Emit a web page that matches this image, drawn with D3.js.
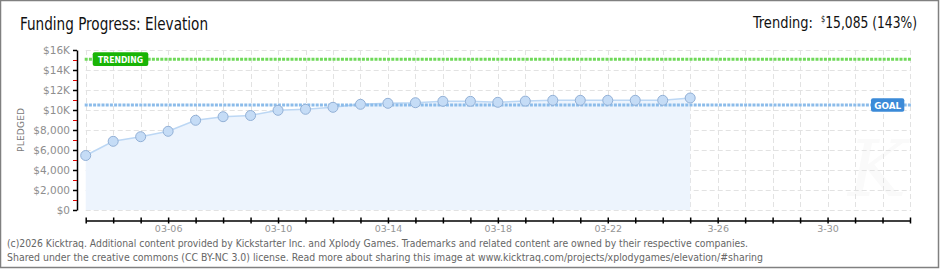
<!DOCTYPE html>
<html>
<head>
<meta charset="utf-8">
<script src="https://cdn.jsdelivr.net/npm/d3@7"></script>
<style>
  body { margin: 0; background: #fff; }
  svg { display: block; }
</style>
</head>
<body>
<div class="chart"></div>
<script>
const dates = [
  '2026-03-03', '2026-03-04', '2026-03-05', '2026-03-06', '2026-03-07', '2026-03-08',
  '2026-03-09', '2026-03-10', '2026-03-11', '2026-03-12', '2026-03-13', '2026-03-14',
  '2026-03-15', '2026-03-16', '2026-03-17', '2026-03-18', '2026-03-19', '2026-03-20',
  '2026-03-21', '2026-03-22', '2026-03-23', '2026-03-24', '2026-03-25'
];
const pledged = [
  5450, 6870, 7330, 7870, 8970, 9330,
  9450, 9970, 10070, 10270, 10570, 10670,
  10730, 10870, 10870, 10770, 10890, 10970,
  10970, 10970, 10970, 10970, 11200
];
const xDomain = ['2026-03-03', '2026-04-02'];
const xTickLabels = [
  ['2026-03-06', '03-06'], ['2026-03-10', '03-10'], ['2026-03-14', '03-14'],
  ['2026-03-18', '03-18'], ['2026-03-22', '03-22'], ['2026-03-26', '3-26'],
  ['2026-03-30', '3-30']
];
const yMajorTicks = [0, 2000, 4000, 6000, 8000, 10000, 12000, 14000, 16000];
const yMinorTicks = [1000, 3000, 5000, 7000, 9000, 11000, 13000, 15000];
const goal = 10500;
const trending = 15085;

const W = 940, H = 270;
const plot = { left: 85.7, right: 910, top: 50, bottom: 210 };

const parse = d3.utcParse('%Y-%m-%d');
const data = dates.map((d, i) => ({ date: parse(d), value: pledged[i] }));
const labelMap = new Map(xTickLabels.map(([d, l]) => [+parse(d), l]));

const svg = d3.select('.chart').append('svg')
  .attr('width', W)
  .attr('height', H);

svg.append('rect')
  .attr('width', W).attr('height', H)
  .attr('fill', '#fff');

// outer frame
svg.append('rect')
  .attr('x', 0.5).attr('y', 0.5)
  .attr('width', 938).attr('height', 267)
  .attr('fill', 'none')
  .attr('stroke', '#808080')
  .attr('stroke-width', 1.5);

const xScale = d3.scaleUtc()
  .domain(xDomain.map(parse))
  .range([plot.left, plot.right]);

const yScale = d3.scaleLinear()
  .domain([0, 16000])
  .range([plot.bottom, plot.top]);

const dayTicks = d3.utcDay.range(parse(xDomain[0]), d3.utcDay.offset(parse(xDomain[1]), 1));

// faint watermark
svg.append('text')
  .attr('x', 848).attr('y', 196)
  .attr('font-family', 'DejaVu Serif, serif')
  .attr('font-style', 'italic')
  .attr('font-size', 78)
  .attr('fill', '#fafafa')
  .text('K');

// grid
const grid = svg.append('g')
  .attr('stroke', '#e2e2e2')
  .attr('stroke-dasharray', '5,3')
  .attr('stroke-width', 1);

grid.selectAll('.vgrid')
  .data(dayTicks)
  .enter().append('line')
  .attr('x1', d => Math.round(xScale(d)) + 0.5)
  .attr('x2', d => Math.round(xScale(d)) + 0.5)
  .attr('y1', plot.top)
  .attr('y2', plot.bottom);

grid.selectAll('.hgrid')
  .data(yMajorTicks)
  .enter().append('line')
  .attr('x1', plot.left)
  .attr('x2', plot.right + 1)
  .attr('y1', d => yScale(d) + 0.5)
  .attr('y2', d => yScale(d) + 0.5);

// area + line
const area = d3.area()
  .x(d => xScale(d.date))
  .y0(yScale(0))
  .y1(d => yScale(d.value));

svg.append('path')
  .datum(data)
  .attr('d', area)
  .attr('fill', '#edf4fd');

const line = d3.line()
  .x(d => xScale(d.date))
  .y(d => yScale(d.value));

svg.append('path')
  .datum(data)
  .attr('d', line)
  .attr('fill', 'none')
  .attr('stroke', '#bcd7f4')
  .attr('stroke-width', 1.5);

// goal & trending lines
const refLine = (value, color) => {
  svg.append('line')
    .attr('x1', plot.left - 1)
    .attr('x2', plot.right + 1)
    .attr('y1', yScale(value))
    .attr('y2', yScale(value))
    .attr('stroke', color)
    .attr('stroke-width', 3)
    .attr('stroke-dasharray', '3,1.2');
};
refLine(goal, '#8cbcea');
refLine(trending, '#6fd95a');

// points
svg.append('g').selectAll('circle')
  .data(data)
  .enter().append('circle')
  .attr('cx', d => xScale(d.date))
  .attr('cy', d => yScale(d.value))
  .attr('r', 5)
  .attr('fill', '#c5dcf6')
  .attr('stroke', '#92b0d6')
  .attr('stroke-width', 1);

// badges
const badge = (x, value, w, color, label, textLen) => {
  const yc = yScale(value);
  svg.append('rect')
    .attr('x', x).attr('y', yc - 6.8)
    .attr('width', w).attr('height', 13.6)
    .attr('rx', 2)
    .attr('fill', color);
  svg.append('text')
    .attr('x', x + (w - textLen) / 2)
    .attr('y', yc + 3.6)
    .attr('font-family', 'DejaVu Sans, sans-serif')
    .attr('font-weight', 'bold')
    .attr('font-size', 9.5)
    .attr('textLength', textLen)
    .attr('lengthAdjust', 'spacingAndGlyphs')
    .attr('fill', '#fff')
    .text(label);
};
badge(92.7, trending, 55.6, '#19b406', 'TRENDING', 45);
badge(871, goal, 33.3, '#3b8ad8', 'GOAL', 27);

// y axis
const yLabel = v => v >= 10000 ? `$${v / 1000}K` : d3.format('$,')(v);

const yAxisG = svg.append('g')
  .attr('transform', 'translate(77, 0)')
  .call(d3.axisLeft(yScale).tickValues(yMajorTicks).tickSize(4).tickSizeOuter(0).tickFormat(yLabel));

svg.append('g')
  .attr('transform', 'translate(77, 0)')
  .call(d3.axisLeft(yScale).tickValues(yMinorTicks).tickSize(4).tickSizeOuter(0).tickFormat(''))
  .call(g => g.select('.domain').remove())
  .call(g => g.selectAll('line').attr('stroke', '#e00000'));

yAxisG.select('.domain').attr('stroke', '#000').attr('stroke-width', 1.5);
yAxisG.selectAll('line').attr('stroke', '#000').attr('stroke-width', 1.5);
yAxisG.selectAll('text')
  .attr('font-family', 'DejaVu Sans, sans-serif')
  .attr('font-size', 10.5)
  .attr('fill', '#8e8e8e');

svg.append('text')
  .attr('transform', 'translate(23.5, 130) rotate(-90)')
  .attr('text-anchor', 'middle')
  .attr('font-family', 'DejaVu Sans, sans-serif')
  .attr('font-size', 9)
  .attr('textLength', 44)
  .attr('lengthAdjust', 'spacing')
  .attr('fill', '#7a7a7a')
  .text('PLEDGED');

// x axis
const xAxisG = svg.append('g')
  .attr('transform', 'translate(0, 220.5)')
  .call(d3.axisBottom(xScale)
    .tickValues(dayTicks)
    .tickSize(3)
    .tickSizeOuter(0)
    .tickFormat(d => labelMap.get(+d) || ''));

xAxisG.select('.domain').attr('stroke', '#000').attr('stroke-width', 1.5);
xAxisG.selectAll('line')
  .attr('y1', -3)
  .attr('stroke', '#000')
  .attr('stroke-width', 1.5);
xAxisG.selectAll('text')
  .attr('y', 5)
  .attr('font-family', 'DejaVu Sans, sans-serif')
  .attr('font-size', 9.5)
  .attr('fill', '#959595');

// title & trending summary
svg.append('text')
  .attr('x', 20).attr('y', 29.5)
  .attr('font-family', 'DejaVu Sans Condensed, sans-serif')
  .attr('font-size', 17)
  .attr('textLength', 188)
  .attr('lengthAdjust', 'spacingAndGlyphs')
  .attr('fill', '#111')
  .text('Funding Progress: Elevation');

svg.append('text')
  .attr('x', 753).attr('y', 27.5)
  .attr('font-family', 'DejaVu Sans Condensed, sans-serif')
  .attr('font-size', 15)
  .attr('textLength', 60)
  .attr('lengthAdjust', 'spacingAndGlyphs')
  .attr('fill', '#111')
  .text('Trending:');

const amount = svg.append('text')
  .attr('x', 821).attr('y', 27.5)
  .attr('font-family', 'DejaVu Sans Condensed, sans-serif')
  .attr('font-size', 16.5)
  .attr('textLength', 96)
  .attr('lengthAdjust', 'spacingAndGlyphs')
  .attr('fill', '#111');
amount.append('tspan').attr('font-size', 9).attr('dy', -5.5).text('$');
amount.append('tspan').attr('dy', 5.5).text(`${d3.format(',')(trending)} (143%)`);

// footer
const footer = [
  ['(c)2026 Kicktraq. Additional content provided by Kickstarter Inc. and Xplody Games. Trademarks and related content are owned by their respective companies.', 247, 741],
  ['Shared under the creative commons (CC BY-NC 3.0) license. Read more about sharing this image at www.kicktraq.com/projects/xplodygames/elevation/#sharing', 261, 756]
];
svg.selectAll('.footer')
  .data(footer)
  .enter().append('text')
  .attr('x', 7)
  .attr('y', d => d[1])
  .attr('font-family', 'DejaVu Sans Condensed, sans-serif')
  .attr('font-size', 10)
  .attr('textLength', d => d[2])
  .attr('lengthAdjust', 'spacingAndGlyphs')
  .attr('fill', '#666')
  .text(d => d[0]);
</script>
</body>
</html>
